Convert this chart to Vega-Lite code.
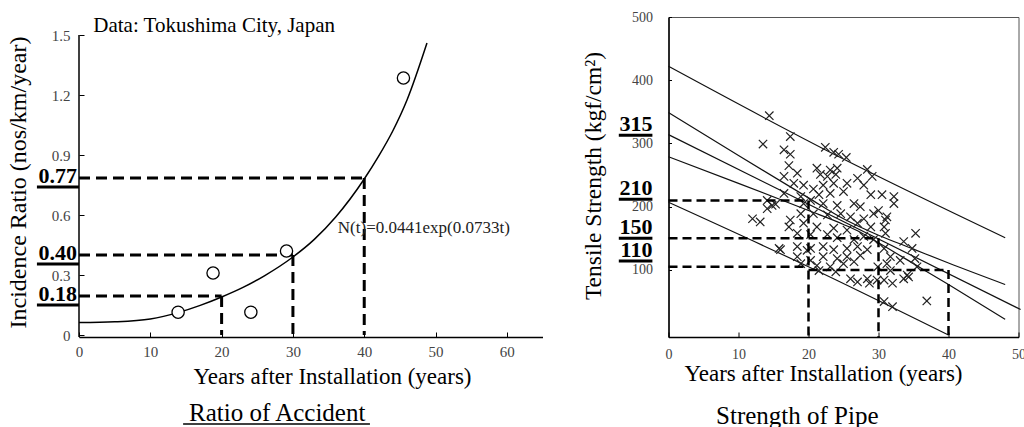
{
  "$schema": "https://vega.github.io/schema/vega-lite/v6.json",
  "padding": {"left": 5, "top": 9, "right": 0, "bottom": 0},
  "background": "white",
  "config": {
    "view": {"stroke": null},
    "font": "Liberation Serif",
    "axis": {
      "labelFont": "Liberation Serif",
      "titleFont": "Liberation Serif",
      "labelColor": "#444",
      "titleColor": "#000",
      "titleFontWeight": "normal",
      "domainColor": "#000",
      "tickColor": "#000",
      "grid": false,
      "labelFlush": false,
      "labelOverlap": false,
      "titleFontSize": 23
    }
  },
  "datasets": {
    "curve": [
      {"x": 0, "y": 0.062}, {"x": 5, "y": 0.066}, {"x": 10, "y": 0.08}, {"x": 14, "y": 0.113},
      {"x": 17, "y": 0.148}, {"x": 20, "y": 0.19}, {"x": 23, "y": 0.238}, {"x": 26, "y": 0.296},
      {"x": 30, "y": 0.39}, {"x": 33, "y": 0.478}, {"x": 36, "y": 0.59}, {"x": 40, "y": 0.78},
      {"x": 42, "y": 0.893}, {"x": 44, "y": 1.02}, {"x": 46, "y": 1.175}, {"x": 48.8, "y": 1.46}
    ],
    "accidents": [
      {"x": 13.9, "y": 0.114}, {"x": 18.8, "y": 0.31}, {"x": 24.1, "y": 0.114},
      {"x": 29.1, "y": 0.42}, {"x": 45.5, "y": 1.285}
    ],
    "leftDash": [
      {"x": 0, "x2": 40, "y": 0.785, "y2": 0.785}, {"x": 40, "x2": 40, "y": 0.785, "y2": 0},
      {"x": 0, "x2": 30, "y": 0.40, "y2": 0.40}, {"x": 30, "x2": 30, "y": 0.40, "y2": 0},
      {"x": 0, "x2": 20, "y": 0.195, "y2": 0.195}, {"x": 20, "x2": 20, "y": 0.195, "y2": 0}
    ],
    "leftAxisLine": [{"x": 0, "x2": 0, "y": -0.01, "y2": 1.5}],
    "leftLabels": [
      {"label": "0.77", "y": 0.785}, {"label": "0.40", "y": 0.40}, {"label": "0.18", "y": 0.195}
    ],
    "equation": [{"x": 36.3, "y": 0.51, "text": "N(t)=0.0441exp(0.0733t)"}],
    "source": [{"x": 2, "y": 1.515, "text": "Data: Tokushima City, Japan"}],
    "bands": [
      {"series": "a", "x": 0, "y": 422}, {"series": "a", "x": 24, "y": 281}, {"series": "a", "x": 48.1, "y": 151},
      {"series": "b", "x": 0, "y": 349}, {"series": "b", "x": 10, "y": 281}, {"series": "b", "x": 20, "y": 214},
      {"series": "b", "x": 25, "y": 181}, {"series": "b", "x": 27, "y": 170}, {"series": "b", "x": 30, "y": 155},
      {"series": "b", "x": 35, "y": 133}, {"series": "b", "x": 40, "y": 111}, {"series": "b", "x": 48.1, "y": 77},
      {"series": "c", "x": 0, "y": 314}, {"series": "c", "x": 50.3, "y": 37.4},
      {"series": "d", "x": 0, "y": 279}, {"series": "d", "x": 10, "y": 237}, {"series": "d", "x": 20, "y": 194},
      {"series": "d", "x": 25, "y": 172}, {"series": "d", "x": 27, "y": 162}, {"series": "d", "x": 30, "y": 143},
      {"series": "d", "x": 35, "y": 110}, {"series": "d", "x": 40, "y": 77}, {"series": "d", "x": 48.1, "y": 22},
      {"series": "e", "x": 0, "y": 207}, {"series": "e", "x": 20, "y": 105}, {"series": "e", "x": 40, "y": -3}
    ],
    "samples": [
      {"x": 14.4, "y": 344}, {"x": 13.5, "y": 299}, {"x": 17.4, "y": 311}, {"x": 16.5, "y": 290}, {"x": 17.4, "y": 283},
      {"x": 22.4, "y": 294}, {"x": 23.6, "y": 286}, {"x": 24.3, "y": 283}, {"x": 25.4, "y": 278}, {"x": 17.2, "y": 265},
      {"x": 21.2, "y": 261}, {"x": 23.1, "y": 258}, {"x": 24.1, "y": 261}, {"x": 28.4, "y": 259}, {"x": 16.5, "y": 248},
      {"x": 18.4, "y": 253}, {"x": 21.7, "y": 251}, {"x": 22.7, "y": 248}, {"x": 23.9, "y": 251}, {"x": 27, "y": 245},
      {"x": 29.1, "y": 248}, {"x": 17.9, "y": 237}, {"x": 19.3, "y": 234}, {"x": 20.7, "y": 228}, {"x": 22.1, "y": 234},
      {"x": 23.6, "y": 237}, {"x": 25.5, "y": 237}, {"x": 27.9, "y": 234}, {"x": 16.5, "y": 221}, {"x": 18.9, "y": 216},
      {"x": 21.5, "y": 219}, {"x": 23.1, "y": 221}, {"x": 25, "y": 224}, {"x": 28.9, "y": 219}, {"x": 30.5, "y": 219},
      {"x": 32.2, "y": 216}, {"x": 14.1, "y": 210}, {"x": 14.8, "y": 202}, {"x": 14.1, "y": 197}, {"x": 20.3, "y": 210},
      {"x": 22.1, "y": 205}, {"x": 24.1, "y": 202}, {"x": 26.5, "y": 205}, {"x": 27.4, "y": 200}, {"x": 32.2, "y": 205},
      {"x": 12, "y": 181}, {"x": 13.1, "y": 176}, {"x": 18.9, "y": 189}, {"x": 20.7, "y": 189}, {"x": 22.7, "y": 187},
      {"x": 24.6, "y": 189}, {"x": 26, "y": 184}, {"x": 27.9, "y": 181}, {"x": 29.3, "y": 189}, {"x": 31.2, "y": 184},
      {"x": 17.2, "y": 168}, {"x": 19.3, "y": 174}, {"x": 21.2, "y": 168}, {"x": 23.6, "y": 166}, {"x": 25.5, "y": 163},
      {"x": 27, "y": 174}, {"x": 28.9, "y": 168}, {"x": 30.8, "y": 168}, {"x": 31, "y": 158}, {"x": 18.4, "y": 158},
      {"x": 20.3, "y": 156}, {"x": 22.7, "y": 156}, {"x": 24.1, "y": 151}, {"x": 26.5, "y": 148}, {"x": 27.9, "y": 153},
      {"x": 29.3, "y": 148}, {"x": 35.3, "y": 158}, {"x": 33.6, "y": 145}, {"x": 34.8, "y": 134}, {"x": 15.8, "y": 134},
      {"x": 18.4, "y": 137}, {"x": 20.3, "y": 134}, {"x": 22.1, "y": 137}, {"x": 23.6, "y": 132}, {"x": 25.5, "y": 134},
      {"x": 27, "y": 137}, {"x": 28.4, "y": 132}, {"x": 30.8, "y": 134}, {"x": 18.4, "y": 121}, {"x": 20.3, "y": 115},
      {"x": 22.1, "y": 121}, {"x": 24.1, "y": 118}, {"x": 25.5, "y": 121}, {"x": 27.4, "y": 123}, {"x": 31.7, "y": 121},
      {"x": 33.1, "y": 115}, {"x": 18.9, "y": 110}, {"x": 21.2, "y": 107}, {"x": 23.1, "y": 105}, {"x": 25, "y": 110},
      {"x": 26.5, "y": 113}, {"x": 31.2, "y": 110}, {"x": 35.5, "y": 105}, {"x": 21.5, "y": 99}, {"x": 23.9, "y": 97},
      {"x": 29.9, "y": 105}, {"x": 31.7, "y": 99}, {"x": 26, "y": 86}, {"x": 27, "y": 81}, {"x": 28.4, "y": 86},
      {"x": 28.7, "y": 79}, {"x": 29.8, "y": 84}, {"x": 30.8, "y": 84}, {"x": 32, "y": 79}, {"x": 33.6, "y": 86},
      {"x": 34.1, "y": 92}, {"x": 30.8, "y": 50}, {"x": 32, "y": 42}, {"x": 36.9, "y": 51}, {"x": 30, "y": 194},
      {"x": 31, "y": 179}, {"x": 35.2, "y": 118}, {"x": 17.4, "y": 179}, {"x": 19.3, "y": 205}, {"x": 16, "y": 132},
      {"x": 19.8, "y": 131}, {"x": 34.3, "y": 89}, {"x": 15.3, "y": 204}
    ],
    "rightDash": [
      {"x": 0, "x2": 20, "y": 210, "y2": 210}, {"x": 20, "x2": 20, "y": 210, "y2": -6},
      {"x": 0, "x2": 30, "y": 150, "y2": 150}, {"x": 30, "x2": 30, "y": 150, "y2": -6},
      {"x": 0, "x2": 20, "y": 105, "y2": 105}, {"x": 20, "x2": 40, "y": 100, "y2": 100},
      {"x": 40, "x2": 40, "y": 100, "y2": -6}
    ],
    "rightLabels": [
      {"label": "315", "y": 313}, {"label": "210", "y": 212}, {"label": "150", "y": 150}, {"label": "110", "y": 114}
    ]
  },
  "hconcat": [
    {
      "width": 463.5,
      "height": 320,
      "layer": [
        {
          "data": {"name": "leftAxisLine"},
          "mark": {"type": "rule", "color": "#000", "strokeWidth": 1.5},
          "encoding": {
            "x": {"field": "x", "type": "quantitative", "scale": {"domain": [0, 65], "nice": false, "zero": false},
              "axis": {"values": [0, 10, 20, 30, 40, 50, 60], "title": "Years after Installation (years)",
                "tickSize": -5, "labelPadding": 12, "labelFontSize": 15, "domainWidth": 1.5,
                "titleX": 253, "titleY": 46, "titleBaseline": "alphabetic", "titleAlign": "center", "titleAnchor": "start"}},
            "x2": {"field": "x2"},
            "y": {"field": "y", "type": "quantitative", "scale": {"domain": [-0.01, 1.59], "nice": false, "zero": false},
              "axis": {"values": [0, 0.3, 0.6, 0.9, 1.2, 1.5], "title": "Incidence Ratio (nos/km/year)",
                "labelExpr": "datum.value == 0 ? '0' : format(datum.value, '.1f')",
                "domain": false, "tickSize": -5, "labelPadding": 14, "labelFontSize": 15, "titleFontSize": 24,
                "titleX": -61, "titleY": 165, "titleAngle": 270, "titleAlign": "center", "titleBaseline": "middle", "titleAnchor": "start"}},
            "y2": {"field": "y2"}
          }
        },
        {
          "data": {"name": "leftDash"},
          "mark": {"type": "rule", "color": "#000", "strokeWidth": 3, "strokeDash": [11, 6]},
          "encoding": {
            "x": {"field": "x", "type": "quantitative", "scale": {"domain": [0, 65], "nice": false, "zero": false}},
            "x2": {"field": "x2"},
            "y": {"field": "y", "type": "quantitative", "scale": {"domain": [-0.01, 1.59], "nice": false, "zero": false}},
            "y2": {"field": "y2"}
          }
        },
        {
          "data": {"name": "curve"},
          "mark": {"type": "line", "color": "#000", "strokeWidth": 1.5, "interpolate": "monotone"},
          "encoding": {
            "x": {"field": "x", "type": "quantitative", "scale": {"domain": [0, 65], "nice": false, "zero": false}},
            "y": {"field": "y", "type": "quantitative", "scale": {"domain": [-0.01, 1.59], "nice": false, "zero": false}}
          }
        },
        {
          "data": {"name": "accidents"},
          "mark": {"type": "point", "shape": "circle", "filled": false, "fill": "white", "fillOpacity": 1, "stroke": "#000", "strokeWidth": 1.3, "size": 150, "opacity": 1},
          "encoding": {
            "x": {"field": "x", "type": "quantitative", "scale": {"domain": [0, 65], "nice": false, "zero": false}},
            "y": {"field": "y", "type": "quantitative", "scale": {"domain": [-0.01, 1.59], "nice": false, "zero": false}}
          }
        },
        {
          "data": {"name": "leftLabels"},
          "mark": {"type": "text", "font": "Liberation Serif", "fontWeight": "bold", "fontSize": 22, "align": "right", "baseline": "alphabetic", "dx": -2, "dy": 5, "color": "#000"},
          "encoding": {
            "x": {"datum": 0, "type": "quantitative", "scale": {"domain": [0, 65], "nice": false, "zero": false}},
            "y": {"field": "y", "type": "quantitative", "scale": {"domain": [-0.01, 1.59], "nice": false, "zero": false}},
            "text": {"field": "label"}
          }
        },
        {
          "data": {"name": "leftLabels"},
          "mark": {"type": "rule", "color": "#000", "strokeWidth": 3, "yOffset": 9},
          "encoding": {
            "x": {"datum": -5.9, "type": "quantitative", "scale": {"domain": [0, 65], "nice": false, "zero": false}},
            "x2": {"datum": 0},
            "y": {"field": "y", "type": "quantitative", "scale": {"domain": [-0.01, 1.59], "nice": false, "zero": false}}
          }
        },
        {
          "data": {"name": "equation"},
          "mark": {"type": "text", "font": "Liberation Serif", "fontSize": 17, "align": "left", "baseline": "alphabetic", "color": "#222"},
          "encoding": {
            "x": {"field": "x", "type": "quantitative", "scale": {"domain": [0, 65], "nice": false, "zero": false}},
            "y": {"field": "y", "type": "quantitative", "scale": {"domain": [-0.01, 1.59], "nice": false, "zero": false}},
            "text": {"field": "text"}
          }
        },
        {
          "data": {"name": "source"},
          "mark": {"type": "text", "font": "Liberation Serif", "fontSize": 21, "align": "left", "baseline": "alphabetic", "color": "#000"},
          "encoding": {
            "x": {"field": "x", "type": "quantitative", "scale": {"domain": [0, 65], "nice": false, "zero": false}},
            "y": {"field": "y", "type": "quantitative", "scale": {"domain": [-0.01, 1.59], "nice": false, "zero": false}},
            "text": {"field": "text"}
          }
        },
        {
          "data": {"values": [{"caption": "Ratio of Accident"}]},
          "mark": {"type": "text", "font": "Liberation Serif", "fontSize": 25, "align": "center", "baseline": "alphabetic", "dy": 86, "color": "#000"},
          "encoding": {
            "x": {"datum": 27.8, "type": "quantitative", "scale": {"domain": [0, 65], "nice": false, "zero": false}},
            "y": {"datum": 0, "type": "quantitative", "scale": {"domain": [-0.01, 1.59], "nice": false, "zero": false}},
            "text": {"field": "caption"}
          }
        },
        {
          "data": {"values": [{"caption": "Ratio of Accident"}]},
          "mark": {"type": "rule", "color": "#000", "strokeWidth": 1.5, "yOffset": 89},
          "encoding": {
            "x": {"datum": 14.6, "type": "quantitative", "scale": {"domain": [0, 65], "nice": false, "zero": false}},
            "x2": {"datum": 40.8},
            "y": {"datum": 0, "type": "quantitative", "scale": {"domain": [-0.01, 1.59], "nice": false, "zero": false}}
          }
        }
      ]
    },
    {
      "width": 350,
      "height": 320,
      "view": {"stroke": "#555", "strokeWidth": 1},
      "layer": [
        {
          "data": {"name": "bands"},
          "mark": {"type": "line", "color": "#111", "strokeWidth": 1.2, "interpolate": "monotone"},
          "encoding": {
            "x": {"field": "x", "type": "quantitative", "scale": {"domain": [0, 50], "nice": false, "zero": false},
              "axis": {"values": [0, 10, 20, 30, 40, 50], "title": "Years after Installation (years)",
                "tickSize": -5, "labelPadding": 15, "labelFontSize": 14, "domainWidth": 1.5,
                "titleX": 154.5, "titleY": 43, "titleBaseline": "alphabetic", "titleAlign": "center", "titleAnchor": "start"}},
            "y": {"field": "y", "type": "quantitative", "scale": {"domain": [-6, 500], "nice": false, "zero": false},
              "axis": {"values": [100, 200, 300, 400, 500], "title": "Tensile Strength (kgf/cm²)",
                "tickSize": -3, "labelPadding": 19, "labelFontSize": 14, "domainWidth": 1.5, "titleFontSize": 23.5,
                "titleX": -75, "titleY": 158.5, "titleAngle": 270, "titleAlign": "center", "titleBaseline": "middle", "titleAnchor": "start"}},
            "detail": {"field": "series"}
          }
        },
        {
          "data": {"name": "samples"},
          "mark": {"type": "point", "shape": "M-1,-1L1,1M-1,1L1,-1", "filled": false, "stroke": "#222", "strokeWidth": 1.2, "size": 70, "opacity": 1},
          "encoding": {
            "x": {"field": "x", "type": "quantitative", "scale": {"domain": [0, 50], "nice": false, "zero": false}},
            "y": {"field": "y", "type": "quantitative", "scale": {"domain": [-6, 500], "nice": false, "zero": false}}
          }
        },
        {
          "data": {"name": "rightDash"},
          "mark": {"type": "rule", "color": "#000", "strokeWidth": 2.5, "strokeDash": [9, 5]},
          "encoding": {
            "x": {"field": "x", "type": "quantitative", "scale": {"domain": [0, 50], "nice": false, "zero": false}},
            "x2": {"field": "x2"},
            "y": {"field": "y", "type": "quantitative", "scale": {"domain": [-6, 500], "nice": false, "zero": false}},
            "y2": {"field": "y2"}
          }
        },
        {
          "data": {"name": "rightLabels"},
          "mark": {"type": "text", "font": "Liberation Serif", "fontWeight": "bold", "fontSize": 22, "align": "right", "baseline": "alphabetic", "dy": -4, "color": "#000"},
          "encoding": {
            "x": {"datum": -2.3, "type": "quantitative", "scale": {"domain": [0, 50], "nice": false, "zero": false}},
            "y": {"field": "y", "type": "quantitative", "scale": {"domain": [-6, 500], "nice": false, "zero": false}},
            "text": {"field": "label"}
          }
        },
        {
          "data": {"name": "rightLabels"},
          "mark": {"type": "rule", "color": "#000", "strokeWidth": 3},
          "encoding": {
            "x": {"datum": -7.1, "type": "quantitative", "scale": {"domain": [0, 50], "nice": false, "zero": false}},
            "x2": {"datum": -2.3},
            "y": {"field": "y", "type": "quantitative", "scale": {"domain": [-6, 500], "nice": false, "zero": false}}
          }
        },
        {
          "data": {"values": [{"caption": "Strength of Pipe"}]},
          "mark": {"type": "text", "font": "Liberation Serif", "fontSize": 25, "align": "center", "baseline": "alphabetic", "dy": 87, "color": "#000"},
          "encoding": {
            "x": {"datum": 18.4, "type": "quantitative", "scale": {"domain": [0, 50], "nice": false, "zero": false}},
            "y": {"datum": -6, "type": "quantitative", "scale": {"domain": [-6, 500], "nice": false, "zero": false}},
            "text": {"field": "caption"}
          }
        }
      ]
    }
  ],
  "spacing": 125.5,
  "bounds": "flush"
}
